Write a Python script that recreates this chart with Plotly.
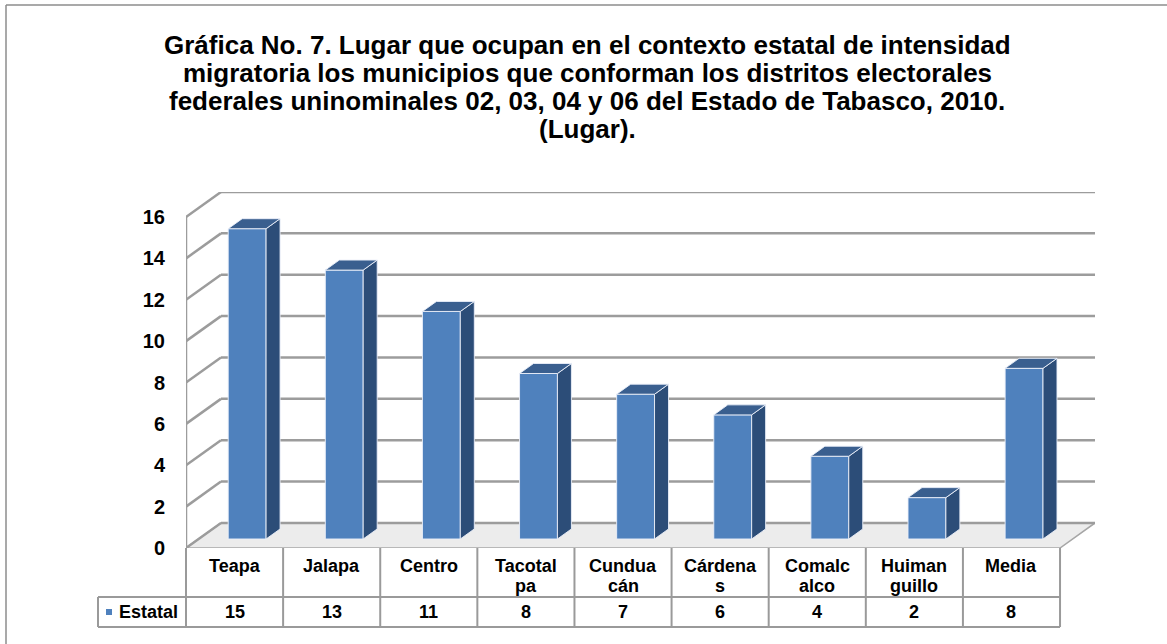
import plotly.graph_objects as go

# ---------------- data ----------------
categories = ["Teapa", "Jalapa", "Centro", "Tacotal<br>pa", "Cundua<br>cán",
              "Cárdena<br>s", "Comalc<br>alco", "Huiman<br>guillo", "Media"]
values = [15, 13, 11, 8, 7, 6, 4, 2, 8.25]
series_name = "Estatal"
y_ticks = [0, 2, 4, 6, 8, 10, 12, 14, 16]
title_lines = [
    "Gráfica No. 7. Lugar que ocupan en el contexto estatal de intensidad",
    "migratoria los municipios que conforman los distritos electorales",
    "federales uninominales 02, 03, 04 y 06 del Estado de Tabasco, 2010.",
    "(Lugar).",
]

# ---------------- geometry / style ----------------
W, H = 1167, 644
L, R, T, B = 186, 72, 192, 96
PW, PH = W - L - R, H - T - B
DX, DY = 0.36, 1.21          # depth of the 3D box in axis units
F0, F1 = 0.36, 0.76          # bar front/back depth fractions
BW = 0.39                    # bar width
XMIN, XMAX = -0.5, len(categories) - 0.5 + DX
YMAX = 16 + DY

FRONT = "#4F81BD"
SIDE = "#2C4D78"
TOP = "#3A5F8F"
GRID = "#9C9C9C"
FONT = "Arial, Liberation Sans, sans-serif"


def px_x(px):
    return (px - L) / PW


def px_y(py):
    return (H - B - py) / PH


def xpaper(x):
    return (x - XMIN) / (XMAX - XMIN)


fig = go.Figure()

n = len(categories)
xs = list(range(n))
ox, oy = F0 * DX, F0 * DY
ddx, ddy = (F1 - F0) * DX, (F1 - F0) * DY
EDGE = "rgba(235,240,250,0.9)"

# front faces
fig.add_trace(go.Bar(
    x=[x + ox for x in xs], y=values, base=[oy] * n, width=BW,
    marker=dict(color=FRONT, line=dict(color=EDGE, width=1)),
    showlegend=False, hoverinfo="skip"))

# side and top faces
for x, v in zip(xs, values):
    xr = x + ox + BW / 2
    xl = x + ox - BW / 2
    fig.add_trace(go.Scatter(
        x=[xr, xr + ddx, xr + ddx, xr, xr],
        y=[oy, oy + ddy, oy + v + ddy, oy + v, oy],
        fill="toself", fillcolor=SIDE, mode="lines",
        line=dict(color=EDGE, width=1),
        showlegend=False, hoverinfo="skip"))
    fig.add_trace(go.Scatter(
        x=[xl, xr, xr + ddx, xl + ddx, xl],
        y=[oy + v, oy + v, oy + v + ddy, oy + v + ddy, oy + v],
        fill="toself", fillcolor=TOP, mode="lines",
        line=dict(color=EDGE, width=1),
        showlegend=False, hoverinfo="skip"))

shapes = []
# floor
x0f, x1f = -0.5, n - 0.5
shapes.append(dict(type="path", xref="x", yref="y", layer="below",
                   path=f"M {x0f},0 L {x1f},0 L {x1f+DX},{DY} L {x0f+DX},{DY} Z",
                   fillcolor="#ECECEC", line=dict(color="#A6A6A6", width=1.5)))
# back wall grid + side wall diagonals
for g in y_ticks:
    shapes.append(dict(type="line", xref="x", yref="y", layer="below",
                       x0=x0f + DX, x1=x1f + DX, y0=g + DY, y1=g + DY,
                       line=dict(color=GRID, width=2.5)))
    shapes.append(dict(type="line", xref="x", yref="y", layer="below",
                       x0=x0f, x1=x0f + DX, y0=g, y1=g + DY,
                       line=dict(color=GRID, width=2.5)))
# front left axis line
shapes.append(dict(type="line", xref="x", yref="y", layer="below",
                   x0=x0f, x1=x0f, y0=0, y1=16, line=dict(color=GRID, width=2.5)))

# data table
TL = "#9A9A9A"
y_top, y_mid, y_bot = px_y(548), px_y(597), px_y(627)
x_left_tab = px_x(98)
for k in range(n + 1):
    xp = xpaper(-0.5 + k)
    shapes.append(dict(type="line", xref="paper", yref="paper",
                       x0=xp, x1=xp, y0=y_top, y1=y_bot, line=dict(color=TL, width=2)))
for yy in (y_mid, y_bot):
    shapes.append(dict(type="line", xref="paper", yref="paper",
                       x0=x_left_tab, x1=xpaper(n - 0.5), y0=yy, y1=yy,
                       line=dict(color=TL, width=2)))
shapes.append(dict(type="line", xref="paper", yref="paper",
                   x0=x_left_tab, x1=x_left_tab, y0=y_mid, y1=y_bot,
                   line=dict(color=TL, width=2)))
# legend key
shapes.append(dict(type="rect", xref="paper", yref="paper",
                   x0=px_x(106), x1=px_x(112), y0=px_y(615), y1=px_y(609),
                   fillcolor=FRONT, line=dict(width=0)))
# outer frame (left & top)
shapes.append(dict(type="line", xref="paper", yref="paper",
                   x0=px_x(6), x1=px_x(6), y0=px_y(5), y1=px_y(660),
                   line=dict(color="#8C8C8C", width=1.5)))
shapes.append(dict(type="line", xref="paper", yref="paper",
                   x0=px_x(6), x1=px_x(1180), y0=px_y(5), y1=px_y(5),
                   line=dict(color="#8C8C8C", width=1.5)))

annotations = []
tf = dict(family=FONT, size=18, color="#000000", weight="bold")
for i, (c, v) in enumerate(zip(categories, values)):
    parts = c.split("<br>")
    for j, p in enumerate(parts):
        annotations.append(dict(xref="paper", yref="paper", x=xpaper(i),
                                y=px_y(566 + 20 * j), text=p, showarrow=False,
                                xanchor="center", yanchor="middle", font=tf))
    annotations.append(dict(xref="paper", yref="paper", x=xpaper(i), y=px_y(612),
                            text=str(int(round(v))), showarrow=False,
                            xanchor="center", yanchor="middle", font=tf))
annotations.append(dict(xref="paper", yref="paper", x=px_x(117), y=px_y(612),
                        text=series_name, showarrow=False, xanchor="left",
                        yanchor="middle", font=tf))
for j, line in enumerate(title_lines):
    annotations.append(dict(xref="paper", yref="paper", x=px_x(587),
                            y=px_y(45 + 28 * j), text=line, showarrow=False,
                            xanchor="center", yanchor="middle",
                            font=dict(family=FONT, size=26, color="#000000", weight="bold")))

fig.update_layout(
    width=W, height=H,
    margin=dict(l=L, r=R, t=T, b=B, pad=0),
    paper_bgcolor="white", plot_bgcolor="rgba(0,0,0,0)",
    shapes=shapes, annotations=annotations, showlegend=False,
    xaxis=dict(range=[XMIN, XMAX], visible=False, fixedrange=True),
    yaxis=dict(range=[0, YMAX], tickvals=y_ticks, ticktext=[str(t) for t in y_ticks],
               showgrid=False, zeroline=False, showline=False, ticks="",
               ticklabelstandoff=20,
               tickfont=dict(family=FONT, size=20, color="#000000", weight="bold"),
               fixedrange=True),
)
fig.write_html("out.html", config={"displayModeBar": False},
               post_script="document.body.style.margin='0';document.body.style.overflow='hidden';")
